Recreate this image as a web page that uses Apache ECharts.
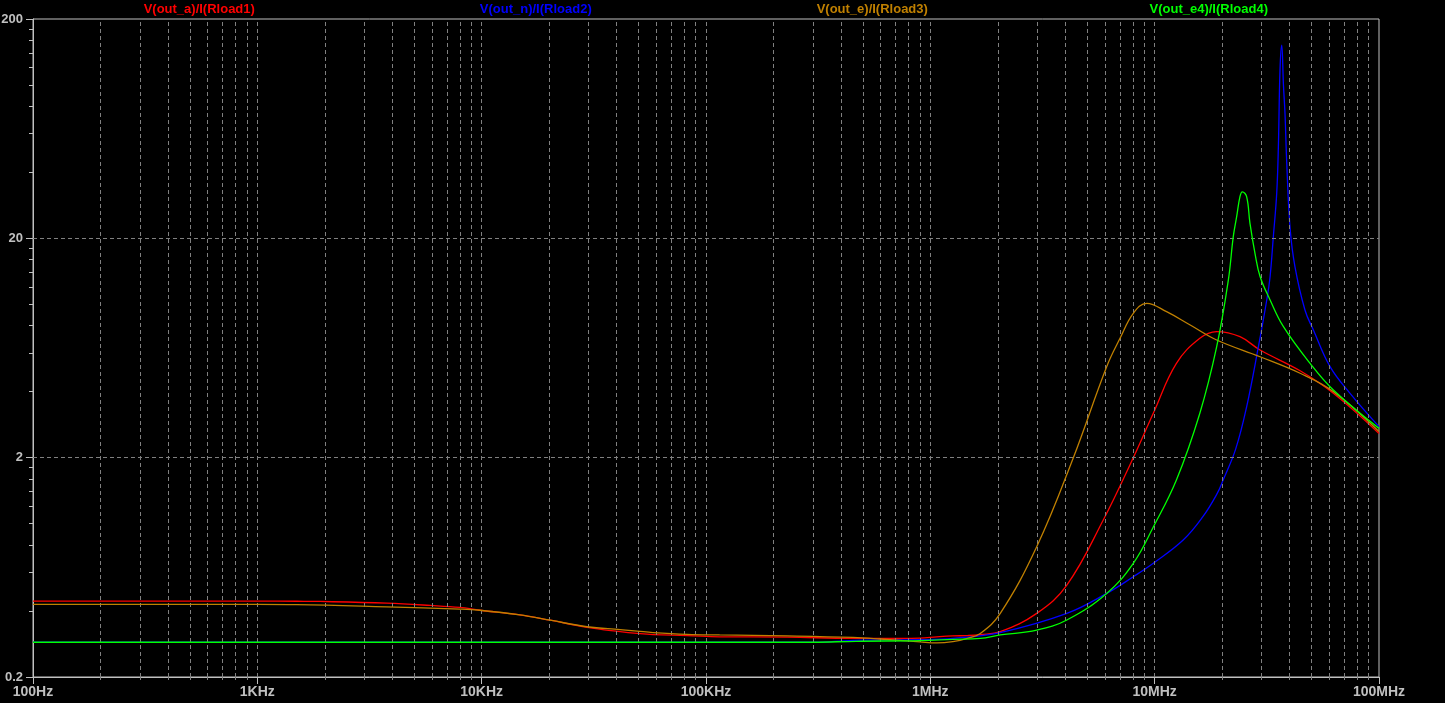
<!DOCTYPE html>
<html>
<head>
<meta charset="utf-8">
<script src="https://cdn.jsdelivr.net/npm/echarts@6/dist/echarts.min.js"></script>
<style>
html,body{margin:0;padding:0;background:#000;}
#chart{width:1445px;height:703px;}
</style>
</head>
<body>
<div id="chart"></div>
<script>
// ---- data (frequency in Hz, value in ohms) ----
const seriesNames = ['V(out_a)/I(Rload1)', 'V(out_n)/I(Rload2)', 'V(out_e)/I(Rload3)', 'V(out_e4)/I(Rload4)'];
const seriesColors = ['#ff0000', '#0000ff', '#c08000', '#00ff00'];

const redF = [100, 1000, 1500, 1900, 3770, 5890, 8000, 9830, 14800, 20200, 29500, 41400, 49300, 58000, 82300, 115000, 230000, 452000, 597000, 900000, 1.07e6, 1.26e6, 1.46e6, 1.67e6, 2.05e6, 2.98e6, 4.06e6, 5.9e6, 8.03e6, 9.86e6, 1.25e7, 1.59e7, 1.89e7, 2.4e7, 2.95e7, 4.45e7, 6.26e7, 1e8];
const redV = [0.444, 0.444, 0.443, 0.442, 0.434, 0.424, 0.415, 0.403, 0.384, 0.363, 0.337, 0.322, 0.316, 0.312, 0.309, 0.305, 0.304, 0.300, 0.300, 0.301, 0.305, 0.308, 0.309, 0.312, 0.322, 0.39, 0.525, 1.04, 2.0, 3.19, 5.38, 7.0, 7.51, 7.12, 6.19, 4.98, 3.93, 2.58];

const blueF = [100, 300000, 452000, 900000, 1.26e6, 2.05e6, 4.06e6, 6.11e6, 8.03e6, 9.86e6, 1.34e7, 1.64e7, 1.89e7, 2.02e7, 2.3e7, 2.57e7, 2.9e7, 3.16e7, 3.27e7, 3.38e7, 3.5e7, 3.56e7, 3.62e7, 3.685e7, 3.75e7, 3.81e7, 3.88e7, 4.01e7, 4.22e7, 4.68e7, 5.1e7, 6.05e7, 7.43e7, 1e8];
const blueV = [0.288, 0.288, 0.294, 0.296, 0.300, 0.319, 0.39, 0.481, 0.573, 0.66, 0.842, 1.076, 1.36, 1.582, 2.2, 3.41, 6.41, 10.47, 13.4, 20.3, 32.1, 52.3, 117, 152, 100, 74.3, 44, 22.6, 14.85, 9.4, 7.64, 5.2, 3.93, 2.77];

const orangeF = [100, 1000, 1500, 3770, 8000, 9830, 14800, 20200, 29500, 41400, 49300, 58000, 82300, 115000, 230000, 452000, 597000, 900000, 1.07e6, 1.26e6, 1.46e6, 1.67e6, 2.05e6, 2.98e6, 4.34e6, 6.11e6, 7.01e6, 8.03e6, 9.22e6, 1.13e7, 1.44e7, 1.89e7, 2.95e7, 4.45e7, 6.26e7, 1e8];
const orangeV = [0.429, 0.429, 0.428, 0.418, 0.408, 0.403, 0.384, 0.363, 0.339, 0.329, 0.324, 0.319, 0.313, 0.311, 0.308, 0.303, 0.298, 0.289, 0.286, 0.290, 0.300, 0.316, 0.39, 0.785, 2.0, 5.2, 7.0, 9.1, 10.11, 9.26, 8.05, 6.88, 5.77, 4.85, 4.0, 2.63];

const greenF = [100, 300000, 466000, 900000, 1.26e6, 1.67e6, 2.05e6, 2.98e6, 4.06e6, 6.11e6, 8.03e6, 9.86e6, 1.25e7, 1.59e7, 1.89e7, 2.13e7, 2.24e7, 2.32e7, 2.4e7, 2.46e7, 2.57e7, 2.66e7, 2.8e7, 2.95e7, 3.27e7, 3.75e7, 4.93e7, 6.26e7, 1e8];
const greenV = [0.288, 0.288, 0.291, 0.293, 0.297, 0.300, 0.311, 0.327, 0.364, 0.481, 0.66, 0.966, 1.582, 3.19, 6.41, 12.9, 20.3, 25.1, 31.0, 32.6, 31.0, 23.4, 17.1, 13.4, 10.47, 7.91, 5.38, 4.07, 2.72];

const xTickLabels = ['100Hz', '1KHz', '10KHz', '100KHz', '1MHz', '10MHz', '100MHz'];
const xMajor = [100, 1e3, 1e4, 1e5, 1e6, 1e7, 1e8];
const yMajor = [0.2, 2, 20, 200];
const yGrid = [2, 20];
const minorMult = [2, 3, 4, 5, 6, 7, 8, 9];
const yMinorMult = [2, 3, 4, 5, 6, 7, 8, 9]; // x0.2 => 0.4..1.8

// ---- derived ----
const xMinor = [];
for (let d = 100; d < 1e8; d *= 10) minorMult.forEach(m => xMinor.push(m * d));
const xGridVals = xMinor.concat(xMajor.slice(1, -1));
const yMinor = [];
[0.2, 2, 20].forEach(d => yMinorMult.forEach(m => yMinor.push(+(d * m).toPrecision(3))));

const pairs = (f, v) => f.map((x, i) => [x, v[i]]);
const dataSets = [pairs(redF, redV), pairs(blueF, blueV), pairs(orangeF, orangeV), pairs(greenF, greenV)];

const GRID = {left: 33, right: 66, top: 19, bottom: 26};
const AXIS_COLOR = '#c0c0c0';
const FONT = 'Liberation Sans';

const chart = echarts.init(document.getElementById('chart'), null, {renderer: 'canvas'});

const series = dataSets.map((d, i) => ({
  name: seriesNames[i],
  type: 'line',
  data: d,
  xAxisIndex: 0,
  yAxisIndex: 0,
  showSymbol: false,
  symbol: 'none',
  smooth: 0.4,
  lineStyle: {color: seriesColors[i], width: 1.3},
  itemStyle: {color: seriesColors[i]},
  silent: true,
  z: 3 + i
}));
series[0].markLine = {
  silent: true,
  symbol: ['none', 'none'],
  label: {show: false},
  animation: false,
  lineStyle: {color: '#808080', type: [4, 3], width: 1},
  data: xGridVals.map(v => ({xAxis: v})).concat(yGrid.map(v => ({yAxis: v})))
};

const plotW = 1445 - GRID.left - GRID.right;
const graphics = seriesNames.map((t, i) => ({
  type: 'text',
  x: GRID.left + (i + 0.5) * plotW / seriesNames.length - 2,
  y: 9,
  style: {
    text: t,
    fill: seriesColors[i],
    font: 'bold 13px "' + FONT + '"',
    align: 'center',
    verticalAlign: 'middle'
  }
}));

chart.setOption({
  backgroundColor: '#000',
  animation: false,
  grid: Object.assign({show: true, borderColor: AXIS_COLOR, borderWidth: 1, backgroundColor: '#000', containLabel: false, outerBoundsMode: 'none'}, GRID),
  graphic: graphics,
  xAxis: [{
    type: 'log', logBase: 10, min: 100, max: 1e8,
    position: 'bottom',
    axisLine: {show: true, lineStyle: {color: AXIS_COLOR}},
    axisTick: {show: true, length: 7, lineStyle: {color: AXIS_COLOR}, customValues: xMajor},
    axisLabel: {
      show: true, customValues: xMajor, color: AXIS_COLOR, fontFamily: FONT, fontWeight: 'bold', fontSize: 14, margin: 8,
      formatter: v => xTickLabels[Math.round(Math.log10(v)) - 2]
    },
    splitLine: {show: false},
    minorTick: {show: false}
  }, {
    type: 'log', logBase: 10, min: 100, max: 1e8,
    position: 'bottom',
    axisLine: {show: false},
    axisTick: {show: true, length: 3, lineStyle: {color: '#808080'}, customValues: xMinor},
    axisLabel: {show: false},
    splitLine: {show: false}
  }],
  yAxis: [{
    type: 'log', logBase: 10, min: 0.2, max: 200,
    position: 'left',
    axisLine: {show: true, lineStyle: {color: AXIS_COLOR}},
    axisTick: {show: true, length: 7, lineStyle: {color: AXIS_COLOR}, customValues: yMajor},
    axisLabel: {
      show: true, customValues: yMajor, color: AXIS_COLOR, fontFamily: FONT, fontWeight: 'bold', fontSize: 13, margin: 10,
      formatter: v => String(+v.toPrecision(3))
    },
    splitLine: {show: false},
    minorTick: {show: false}
  }, {
    type: 'log', logBase: 10, min: 0.2, max: 200,
    position: 'left',
    axisLine: {show: false},
    axisTick: {show: true, length: 4, lineStyle: {color: AXIS_COLOR}, customValues: yMinor},
    axisLabel: {show: false},
    splitLine: {show: false}
  }],
  series: series
});
</script>
</body>
</html>
